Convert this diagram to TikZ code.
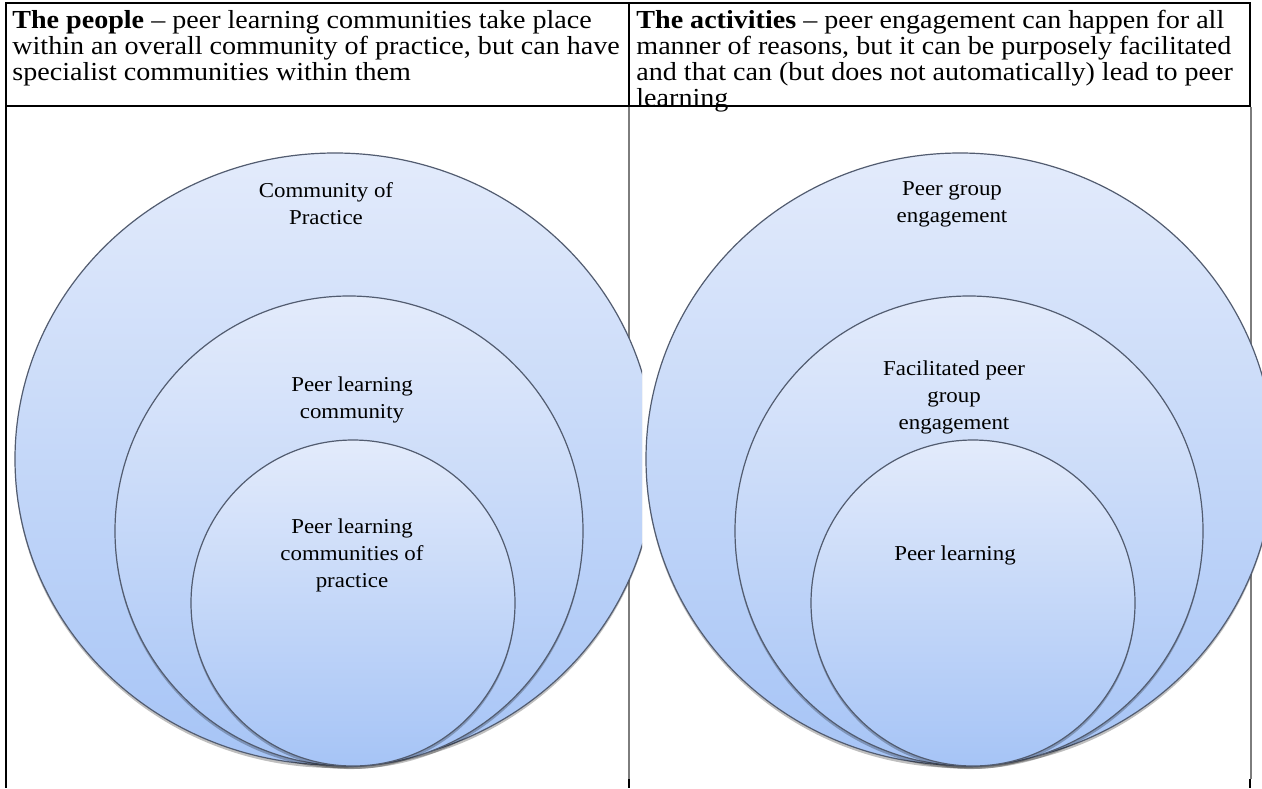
\documentclass[tikz,border=0pt]{standalone}
\usepackage{fontspec}
\setmainfont{Liberation Serif}[FakeStretch=1.08]
\definecolor{vennTop}{RGB}{227,235,251}
\definecolor{vennBot}{RGB}{166,196,246}
\definecolor{vennLine}{RGB}{82,92,112}
\definecolor{cellGray}{RGB}{125,125,125}
\newcommand{\headfont}{\fontsize{13}{13}\selectfont\lineskiplimit=-20pt}
\newcommand{\labelfont}{\fontsize{10.6}{13.5}\selectfont\lineskiplimit=-20pt}
% one circle of the stacked venn: cx, cy, x radius, y radius
\newcommand{\vennshape}[4]{%
  \fill[vennshadow] (#1,#2+3) ellipse [x radius=#3, y radius=#4];
  \path[venn] (#1,#2) ellipse [x radius=#3, y radius=#4];}
\tikzset{
  venn/.style={draw=vennLine, line width=0.6pt, top color=vennTop, bottom color=vennBot},
  vennshadow/.style={fill=black, opacity=0.25},
  headtext/.style={anchor=north west, inner sep=0pt, align=left, font=\headfont},
  vennlabel/.style={align=center, inner sep=0pt, font=\labelfont},
  rule/.style={line width=1pt, black},
  imgrule/.style={line width=0.8pt, cellGray},
}
\begin{document}
\begin{tikzpicture}[x=0.5pt, y=-0.5pt]
  \useasboundingbox (0,0) rectangle (1262,788);
  \fill[white] (0,0) rectangle (1262,788);

  % table rules
  \draw[rule] (5,3) -- (1251,3);
  \draw[rule] (6,3) -- (6,788);
  \draw[rule] (6,106) -- (1250,106);
  \draw[rule] (629,3) -- (629,107);
  \draw[rule] (1250,3) -- (1250,107);
  \draw[imgrule] (629,107) -- (629,779);
  \draw[imgrule] (1251,107) -- (1251,779);
  \draw[rule] (629,779) -- (629,788);
  \draw[rule] (1250,779) -- (1250,788);

  % left venn: the people
  \begin{scope}
    \clip (0,107) rectangle (642,788);
    \vennshape{335}{459}{320}{306}
    \vennshape{349}{531}{234}{235}
    \vennshape{353}{603}{162}{163}
  \end{scope}

  % right venn: the activities
  \begin{scope}
    \clip (642,107) rectangle (1262,788);
    \vennshape{960}{459}{314}{306}
    \vennshape{969}{531}{234}{235}
    \vennshape{973}{603}{162}{163}
  \end{scope}

  % header cells
  \node[headtext] (people) at (12,10)
    {\textbf{The people} – peer learning communities take place\\
     within an overall community of practice, but can have\\
     specialist communities within them};
  \node[headtext] (activities) at (636,10)
    {\textbf{The activities} – peer engagement can happen for all\\
     manner of reasons, but it can be purposely facilitated\\
     and that can (but does not automatically) lead to peer\\
     learning};

  % circle labels
  \node[vennlabel] (cop) at (326,204) {Community of\\Practice};
  \node[vennlabel] (plc) at (352,400) {Peer learning\\community};
  \node[vennlabel] (plcop) at (352,555) {Peer learning\\communities of\\practice};
  \node[vennlabel] (pge) at (952,204) {Peer group\\engagement};
  \node[vennlabel] (fpge) at (954,397) {Facilitated peer\\group\\engagement};
  \node[vennlabel] (pl) at (955,555) {Peer learning};
\end{tikzpicture}
\end{document}
